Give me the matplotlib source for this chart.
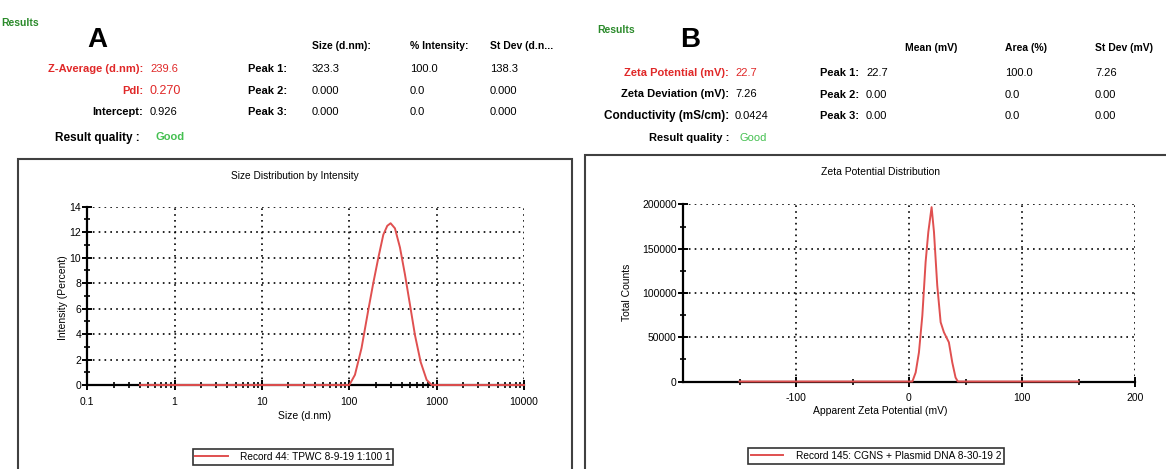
import matplotlib.pyplot as plt
import matplotlib.ticker as mticker
from matplotlib.patches import Rectangle

plt.rcParams['font.family'] = ['Liberation Sans', 'DejaVu Sans']
plt.rcParams['axes.unicode_minus'] = False

# size distribution (panel A)
size_nm = [0.4, 100, 116, 138, 165, 188, 215, 245, 272, 297, 333, 380, 433, 495, 565, 656, 768, 877, 10000]
intensity = [0, 0, 0.8, 2.9, 5.9, 8.0, 10.0, 11.8, 12.5, 12.7, 12.3, 10.8, 8.7, 6.3, 3.9, 1.8, 0.4, 0, 0]

# zeta potential distribution (panel B)
zeta_mv = [-150, 3, 5.9, 8.8, 11.8, 14.7, 17.1, 20.0, 22.1, 25.0, 28.0, 30.9, 35.3, 38.3, 41.2, 43.2, 150]
counts = [0, 0, 10200, 32900, 74500, 135000, 169000, 197000, 169000, 108500, 67000, 55600, 44200, 21500, 4500, 0, 0]

size_ticks = [0.1, 1, 10, 100, 1000, 10000]
size_ticklabels = ['0.1', '1', '10', '100', '1000', '10000']
zeta_ticks = [-100, 0, 100, 200]

label_a = 'Record 44: TPWC 8-9-19 1:100 1'
label_b = 'Record 145: CGNS + Plasmid DNA 8-30-19 2'

RED = '#e05050'
TXT_RED = '#e02828'
GREEN = '#2a8a2a'
GOOD = '#44c050'

W, H = 1166, 469
fig = plt.figure(figsize=(W / 100, H / 100), dpi=100)


def fx(px):
    return px / W


def fy(py):
    return 1 - py / H


def txt(x, y, s, **kw):
    kw.setdefault('fontsize', 8)
    kw.setdefault('va', 'center')
    fig.text(fx(x), fy(y), s, **kw)


# panel frames
fig.add_artist(Rectangle((fx(18), fy(490)), fx(572 - 18), (490 - 159) / H,
                         transform=fig.transFigure, fill=False, ec='#404040', lw=1.5))
fig.add_artist(Rectangle((fx(585), fy(490)), fx(600), (490 - 155) / H,
                         transform=fig.transFigure, fill=False, ec='#404040', lw=1.5))

# header A
txt(1, 23, 'Results', color=GREEN, fontweight='bold', fontsize=7.5)
txt(87, 40, 'A', fontsize=20, fontweight='bold')
txt(143, 69, 'Z-Average (d.nm):', ha='right', color=TXT_RED, fontweight='bold')
txt(150, 69, '239.6', color=TXT_RED)
txt(143, 91, 'PdI:', ha='right', color=TXT_RED, fontweight='bold')
txt(150, 91, '0.270', color=TXT_RED, fontsize=9)
txt(143, 112, 'Intercept:', ha='right', fontweight='bold')
txt(150, 112, '0.926')
txt(140, 138, 'Result quality :', ha='right', fontweight='bold', fontsize=8.5)
txt(155, 137, 'Good', color=GOOD, fontweight='bold')
for i, (p, a, b, c) in enumerate([('Peak 1:', '323.3', '100.0', '138.3'),
                                   ('Peak 2:', '0.000', '0.0', '0.000'),
                                   ('Peak 3:', '0.000', '0.0', '0.000')]):
    y = 69 + i * 21.5
    txt(248, y, p, fontweight='bold')
    txt(312, y, a)
    txt(410, y, b)
    txt(490, y, c)
txt(312, 46, 'Size (d.nm):', fontweight='bold', fontsize=7.5)
txt(410, 46, '% Intensity:', fontweight='bold', fontsize=7.5)
txt(490, 46, 'St Dev (d.n...', fontweight='bold', fontsize=7.5)

# header B
txt(597, 30, 'Results', color=GREEN, fontweight='bold', fontsize=7.5)
txt(680, 40, 'B', fontsize=20, fontweight='bold')
txt(729, 73, 'Zeta Potential (mV):', ha='right', color=TXT_RED, fontweight='bold')
txt(735, 73, '22.7', color=TXT_RED)
txt(729, 94, 'Zeta Deviation (mV):', ha='right', fontweight='bold')
txt(735, 94, '7.26')
txt(729, 116, 'Conductivity (mS/cm):', ha='right', fontweight='bold', fontsize=8.5)
txt(735, 116, '0.0424')
txt(729, 138, 'Result quality :', ha='right', fontweight='bold')
txt(739, 138, 'Good', color=GOOD)
for i, (p, a, b, c) in enumerate([('Peak 1:', '22.7', '100.0', '7.26'),
                                   ('Peak 2:', '0.00', '0.0', '0.00'),
                                   ('Peak 3:', '0.00', '0.0', '0.00')]):
    y = 73 + i * 21.5
    txt(820, y, p, fontweight='bold')
    txt(866, y, a)
    txt(1005, y, b)
    txt(1095, y, c)
txt(905, 48, 'Mean (mV)', fontweight='bold', fontsize=7.5)
txt(1005, 48, 'Area (%)', fontweight='bold', fontsize=7.5)
txt(1095, 48, 'St Dev (mV)', fontweight='bold', fontsize=7.5)


def style_axes(ax):
    for s in ('top', 'right'):
        ax.spines[s].set_visible(False)
    for s in ('left', 'bottom'):
        ax.spines[s].set_linewidth(1.6)
    ax.grid(True, which='major', color='black', linestyle=(0, (1, 2.5)), linewidth=1.2)
    ax.tick_params(which='major', direction='inout', length=7, width=1.4, labelsize=7.5, pad=1)
    ax.tick_params(which='minor', direction='inout', length=5, width=1.2)
    ax.tick_params(axis='x', pad=5)
    ax.set_axisbelow(False)


# plot A
axA = fig.add_axes([fx(87.3), fy(385), fx(524 - 87.3), (385 - 206.7) / H])
axA.plot(size_nm, intensity, color=RED, lw=1.4, clip_on=False, zorder=5)
axA.set_xscale('log')
axA.set_xlim(0.1, 10000)
axA.set_ylim(0, 14)
axA.set_xticks(size_ticks)
axA.set_xticklabels(size_ticklabels)
axA.xaxis.set_minor_locator(mticker.LogLocator(base=10, subs=range(2, 10), numticks=20))
axA.xaxis.set_minor_formatter(mticker.NullFormatter())
axA.set_yticks(range(0, 15, 2))
axA.yaxis.set_minor_locator(mticker.MultipleLocator(1))
style_axes(axA)
fig.text(fx(295), fy(176), 'Size Distribution by Intensity', fontsize=7.3, ha='center', va='center')
fig.text(fx(305), fy(416), 'Size (d.nm)', fontsize=7.5, ha='center', va='center')
fig.text(fx(63), fy(298), 'Intensity (Percent)', fontsize=7.5, ha='center', va='center', rotation=90)
legA = axA.legend([axA.lines[0]], [label_a], loc='center', bbox_to_anchor=(fx(293), fy(457)),
                  bbox_transform=fig.transFigure, fontsize=7.3, frameon=True, fancybox=False,
                  edgecolor='black', handlelength=3.2, borderpad=0.25, handletextpad=1.2)
legA.get_frame().set_linewidth(1.2)

# plot B
axB = fig.add_axes([fx(683), fy(381.5), fx(1135 - 683), (381.5 - 204.5) / H])
axB.plot(zeta_mv, counts, color=RED, lw=1.4, clip_on=False, zorder=5)
axB.set_xlim(-200, 200)
axB.set_ylim(0, 200000)
axB.set_xticks(zeta_ticks)
axB.xaxis.set_minor_locator(mticker.FixedLocator([-150, -50, 50, 150]))
axB.set_yticks(range(0, 200001, 50000))
axB.yaxis.set_minor_locator(mticker.MultipleLocator(25000))
style_axes(axB)
fig.text(fx(880), fy(172), 'Zeta Potential Distribution', fontsize=7.5, ha='center', va='center')
fig.text(fx(880), fy(411), 'Apparent Zeta Potential (mV)', fontsize=7.5, ha='center', va='center')
fig.text(fx(627), fy(292), 'Total Counts', fontsize=7.5, ha='center', va='center', rotation=90)
legB = axB.legend([axB.lines[0]], [label_b], loc='center', bbox_to_anchor=(fx(876), fy(456)),
                  bbox_transform=fig.transFigure, fontsize=7.3, frameon=True, fancybox=False,
                  edgecolor='black', handlelength=3.2, borderpad=0.25, handletextpad=1.2)
legB.get_frame().set_linewidth(1.2)

plt.savefig('out.png', dpi=100)
